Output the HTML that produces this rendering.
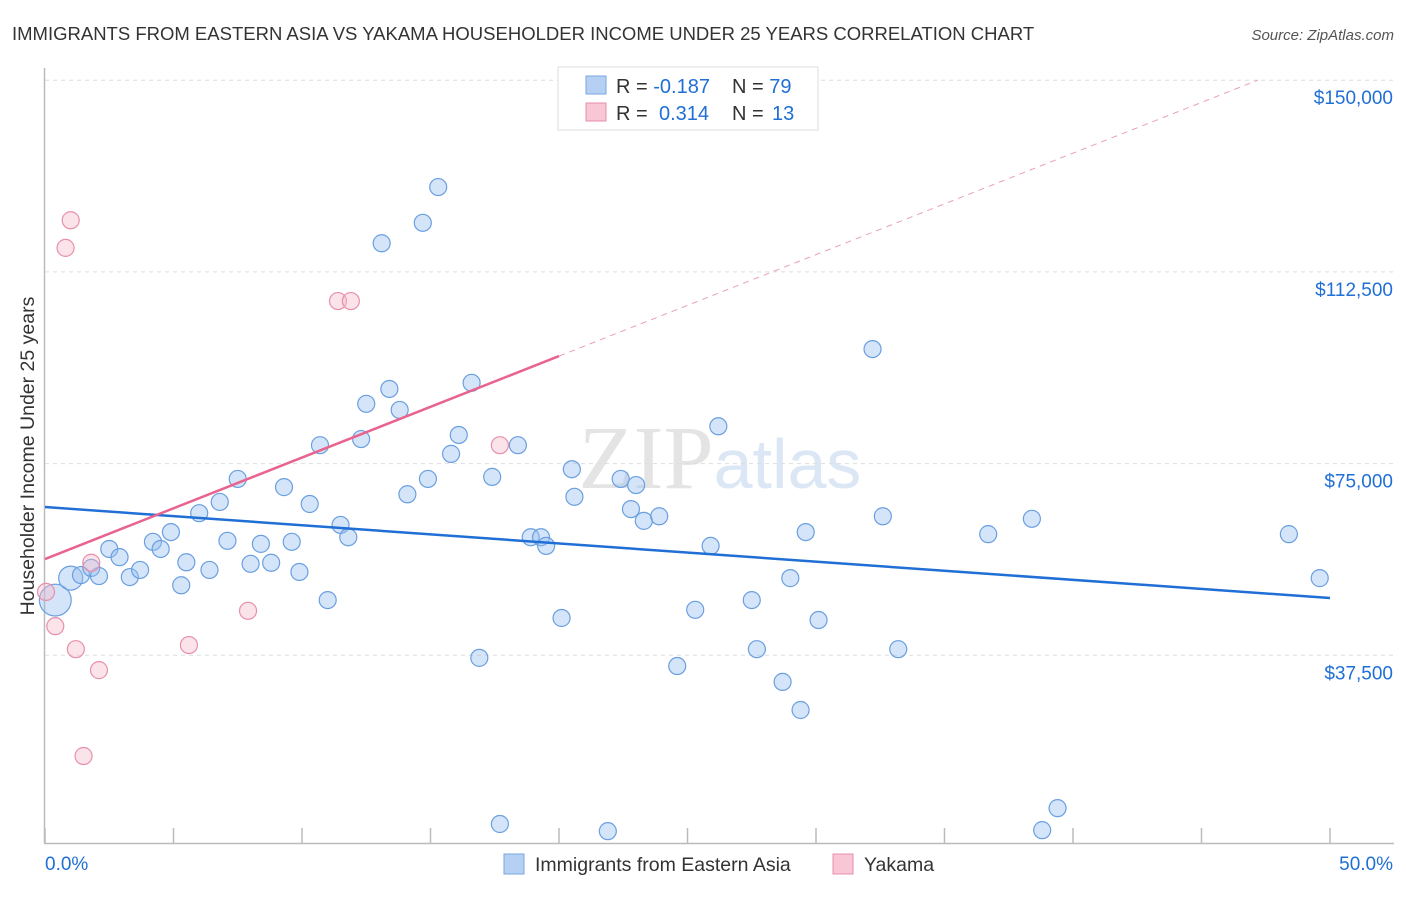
<!DOCTYPE html>
<html><head><meta charset="utf-8"><style>
body{margin:0;background:#fff;font-family:"Liberation Sans",sans-serif}
svg text{font-family:"Liberation Sans",sans-serif}
</style></head><body>
<svg id="c" width="1406" height="892" xmlns="http://www.w3.org/2000/svg">
<text x="12" y="40" font-size="18.5" fill="#333">IMMIGRANTS FROM EASTERN ASIA VS YAKAMA HOUSEHOLDER INCOME UNDER 25 YEARS CORRELATION CHART</text>
<text x="1394" y="40" font-size="15" fill="#555" font-style="italic" text-anchor="end">Source: ZipAtlas.com</text>
<text x="720" y="488" font-size="90" fill="#e4e4e4" text-anchor="middle" font-family="Liberation Serif"><tspan font-family="Liberation Serif">ZIP</tspan><tspan font-family="Liberation Sans" fill="#dbe7f5" font-size="70">atlas</tspan></text>
<text transform="translate(34,456) rotate(-90)" font-size="19.5" fill="#333" text-anchor="middle">Householder Income Under 25 years</text>
<g id="grid"></g><g id="marks"></g>
<g>
<rect x="558" y="67" width="260" height="63" fill="#fff" stroke="#ddd"/>
<rect x="586" y="76" width="20" height="18" fill="#b6d0f3" stroke="#7aa7e0"/>
<rect x="586" y="103" width="20" height="18" fill="#f8c6d5" stroke="#e88fab"/>
<text x="616" y="93" font-size="20" fill="#333">R = <tspan fill="#1f6fd6">-0.187</tspan><tspan x="732">N = </tspan><tspan fill="#1f6fd6">79</tspan></text>
<text x="616" y="120" font-size="20" fill="#333">R = <tspan fill="#1f6fd6" x="659">0.314</tspan><tspan x="732">N = </tspan><tspan fill="#1f6fd6" x="772">13</tspan></text>
</g>
<g>
<rect x="504" y="854" width="20" height="20" fill="#b6d0f3" stroke="#7aa7e0"/>
<text x="535" y="871" font-size="19.5" fill="#333">Immigrants from Eastern Asia</text>
<rect x="833" y="854" width="20" height="20" fill="#f8c6d5" stroke="#e88fab"/>
<text x="864" y="871" font-size="19.5" fill="#333">Yakama</text>
</g>
</svg>
<script>
const yTicks=[37500,75000,112500,150000];
const yTickLabels=["$37,500","$75,000","$112,500","$150,000"];
const xTickLabels=["0.0%","50.0%"];
const blueX=[0.4,1.0,1.4,1.8,2.1,2.5,2.9,3.3,3.7,4.2,4.5,4.9,5.3,5.5,6.0,6.4,6.8,7.1,7.5,8.0,8.4,8.8,9.3,9.6,9.9,10.3,10.7,11.0,11.5,11.8,12.3,12.5,13.1,13.4,13.8,14.1,14.7,14.9,15.3,15.8,16.1,16.6,16.9,17.4,17.7,18.4,18.9,19.3,19.5,20.1,20.5,20.6,21.9,22.4,22.8,23.0,23.3,23.9,24.6,25.3,25.9,26.2,27.5,27.7,28.7,29.0,29.4,29.6,30.1,32.2,32.6,33.2,36.7,38.4,38.8,39.4,48.4,49.6];
const blueY=[48.3,52.6,53.2,54.6,53.0,58.3,56.7,52.8,54.2,59.7,58.3,61.6,51.2,55.7,65.3,54.2,67.5,59.9,72.0,55.4,59.3,55.6,70.4,59.7,53.8,67.1,78.6,48.3,63.0,60.6,79.8,86.7,118.1,89.6,85.5,69.0,122.1,72.0,129.1,76.9,80.6,90.8,37.0,72.4,4.5,78.6,60.6,60.6,58.9,44.8,73.9,68.5,3.1,72.0,66.1,70.8,63.8,64.7,35.4,46.4,58.9,82.3,48.3,38.7,32.3,52.6,26.8,61.6,44.4,97.4,64.7,38.7,61.2,64.2,3.3,7.6,61.2,52.6];
const blueWeight=[3.5,2,1,1,1,1,1,1,1,1,1,1,1,1,1,1,1,1,1,1,1,1,1,1,1,1,1,1,1,1,1,1,1,1,1,1,1,1,1,1,1,1,1,1,1,1,1,1,1,1,1,1,1,1,1,1,1,1,1,1,1,1,1,1,1,1,1,1,1,1,1,1,1,1,1,1,1,1];
const pinkX=[0.04,0.4,0.8,1.0,1.2,1.5,1.8,2.1,5.6,7.9,11.4,11.9,17.7];
const pinkY=[49.9,43.2,117.2,122.6,38.7,17.8,55.6,34.6,39.5,46.2,106.8,106.8,78.6];
const blueTrend=[66.5,48.7];      // value at 0% and 50%
const pinkTrend=[56.33,1.985];    // intercept, slope per %
const NS="http://www.w3.org/2000/svg";
const X=p=>45+p*25.7, Y=v=>847-v*1000*191.7/37500;
const grid=document.getElementById('grid'), marks=document.getElementById('marks');
function mk(tag,at,parent){const e=document.createElementNS(NS,tag);for(const k in at)e.setAttribute(k,at[k]);parent.appendChild(e);return e;}
let a=mk('line',{x1:44.5,y1:68,x2:44.5,y2:843,stroke:'#bbb','stroke-width':1.5},grid);


a=mk('line',{x1:44,y1:843.5,x2:1394,y2:843.5,stroke:'#bbb','stroke-width':1.5},grid);


for(let i=0;i<=10;i++){const t=mk('line',{x1:X(i*5),x2:X(i*5),y1:828,y2:843,stroke:'#bbb','stroke-width':1.5},grid);

}
yTicks.forEach((v,i)=>{
 const g=mk('line',{x1:45,x2:1394,y1:Y(v/1000),y2:Y(v/1000),stroke:'#ddd','stroke-dasharray':'4,4'},grid);
 
 
 const t=mk('text',{x:1393,y:Y(v/1000)+24,'font-size':19,fill:'#1f6fd6','text-anchor':'end'},grid);t.textContent=yTickLabels[i];
 
 
});
let t=mk('text',{x:45,y:870,'font-size':19,fill:'#1f6fd6'},grid);t.textContent=xTickLabels[0];


t=mk('text',{x:1393,y:870,'font-size':19,fill:'#1f6fd6','text-anchor':'end'},grid);t.textContent=xTickLabels[1];


blueX.forEach((x,i)=>{const r=8.5*Math.sqrt(blueWeight[i]||1);
 const c=mk('circle',{cx:X(x),cy:Y(blueY[i]),r:r,fill:'rgba(150,190,240,0.4)',stroke:'#6a9fe0','stroke-width':1.2},marks);
 
 });
pinkX.forEach((x,i)=>{
 const c=mk('circle',{cx:X(x),cy:Y(pinkY[i]),r:8.5,fill:'rgba(246,184,203,0.4)',stroke:'#e88fab','stroke-width':1.2},marks);
 
 });
let l=mk('line',{x1:X(0),y1:Y(blueTrend[0]),x2:X(50),y2:Y(blueTrend[1]),stroke:'#1f6fd6','stroke-width':2.5},marks);


l=mk('line',{x1:X(0),y1:Y(pinkTrend[0]),x2:X(20),y2:Y(pinkTrend[0]+20*pinkTrend[1]),stroke:'#e8648f','stroke-width':2.5},marks);


const xe=(150-pinkTrend[0])/pinkTrend[1];
l=mk('line',{x1:X(20),y1:Y(pinkTrend[0]+20*pinkTrend[1]),x2:X(xe),y2:Y(150),stroke:'#e8a0b8','stroke-width':1,'stroke-dasharray':'6,5'},marks);


</script>
</body></html>
